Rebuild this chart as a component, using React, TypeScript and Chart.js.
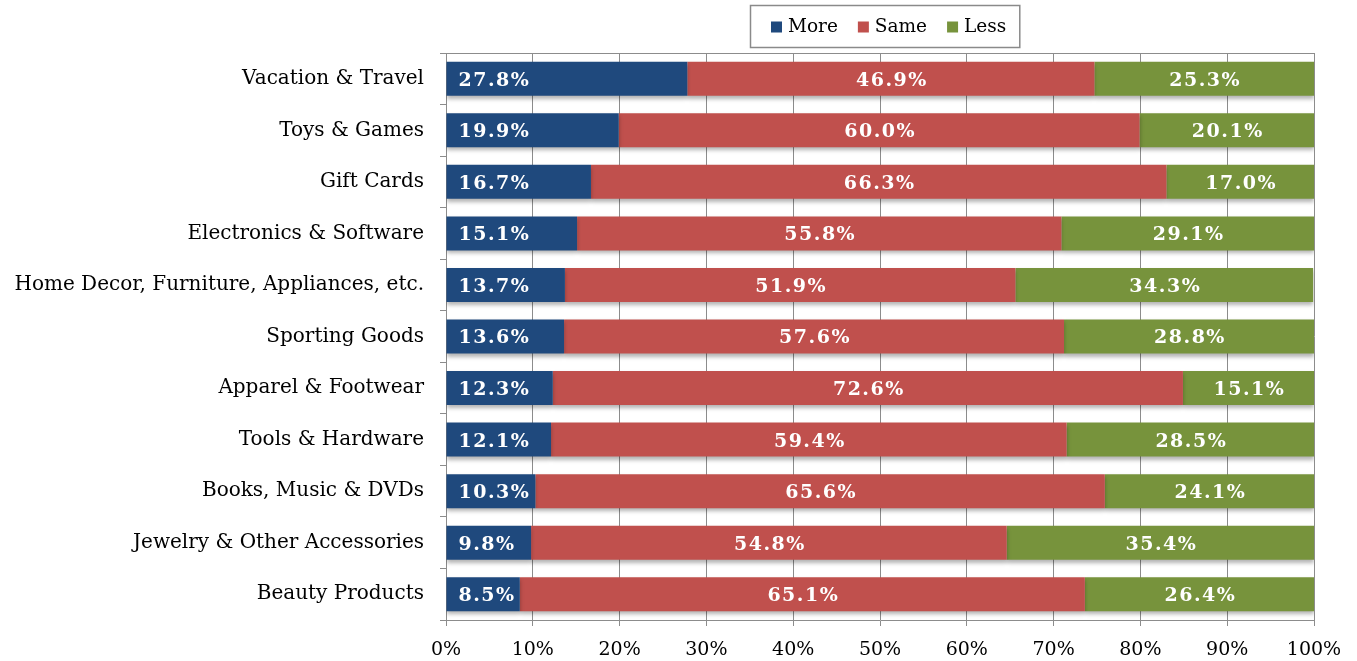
import React, { useEffect, useRef } from "react";
import { Chart, registerables } from "chart.js";

Chart.register(...registerables);

const categories = [
  "Vacation & Travel",
  "Toys & Games",
  "Gift Cards",
  "Electronics & Software",
  "Home Decor, Furniture, Appliances, etc.",
  "Sporting Goods",
  "Apparel & Footwear",
  "Tools & Hardware",
  "Books, Music & DVDs",
  "Jewelry & Other Accessories",
  "Beauty Products",
];
const moreValues = [27.8, 19.9, 16.7, 15.1, 13.7, 13.6, 12.3, 12.1, 10.3, 9.8, 8.5];
const sameValues = [46.9, 60.0, 66.3, 55.8, 51.9, 57.6, 72.6, 59.4, 65.6, 54.8, 65.1];
const lessValues = [25.3, 20.1, 17.0, 29.1, 34.3, 28.8, 15.1, 28.5, 24.1, 35.4, 26.4];
const seriesNames = ["More", "Same", "Less"];
const seriesColors = ["#1F497D", "#C0504D", "#77933C"];

const FONT = "'DejaVu Serif', 'Liberation Serif', serif";
const GRID = "#8c8c8c";

const shadowPlugin = {
  id: "barShadow",
  beforeDatasetsDraw(chart: any) {
    const ctx = chart.ctx;
    ctx.save();
    ctx.shadowColor = "rgba(0,0,0,0.3)";
    ctx.shadowBlur = 4;
    ctx.shadowOffsetX = 0;
    ctx.shadowOffsetY = 3;
  },
  afterDatasetsDraw(chart: any) {
    chart.ctx.restore();
  },
};

const labelPlugin = {
  id: "barLabels",
  afterDatasetsDraw(chart: any) {
    const ctx = chart.ctx;
    ctx.save();
    ctx.fillStyle = "#ffffff";
    ctx.font = `bold 19px ${FONT}`;
    try {
      (ctx as any).letterSpacing = "1.5px";
    } catch (e) {}
    ctx.textBaseline = "middle";
    chart.data.datasets.forEach((ds: any, di: number) => {
      const meta = chart.getDatasetMeta(di);
      meta.data.forEach((el: any, i: number) => {
        const v = ds.data[i] as number;
        const txt = v.toFixed(1) + "%";
        const props = el.getProps(["x", "y", "base"], true);
        if (di === 0) {
          ctx.textAlign = "left";
          ctx.fillText(txt, props.base + 12, props.y + 2);
        } else {
          ctx.textAlign = "center";
          ctx.fillText(txt, (props.x + props.base) / 2 + 1, props.y + 2);
        }
      });
    });
    ctx.restore();
  },
};

const framePlugin = {
  id: "frameAndLegend",
  afterDraw(chart: any) {
    const ctx = chart.ctx;
    const a = chart.chartArea;
    ctx.save();
    ctx.strokeStyle = GRID;
    ctx.lineWidth = 1;
    ctx.beginPath();
    ctx.moveTo(a.left, a.top + 0.5);
    ctx.lineTo(a.right, a.top + 0.5);
    ctx.stroke();

    ctx.font = `18.5px ${FONT}`;
    ctx.textBaseline = "middle";
    ctx.textAlign = "left";
    const sq = 11;
    const gapSqText = 6;
    const gapItems = 20;
    const widths = seriesNames.map((n) => ctx.measureText(n).width);
    let content = 0;
    widths.forEach((w, i) => {
      content += sq + gapSqText + w + (i < widths.length - 1 ? gapItems : 0);
    });
    const cx = (a.left + a.right) / 2 + 5;
    const padL = 21;
    const padR = 13;
    const boxW = content + padL + padR;
    const boxX = Math.round(cx - boxW / 2);
    const boxY = 5;
    const boxH = 42;
    ctx.strokeStyle = "#8a8a8a";
    ctx.lineWidth = 1.5;
    ctx.strokeRect(boxX + 0.5, boxY + 0.5, boxW, boxH);
    let x = boxX + padL;
    const cy = boxY + boxH / 2 + 1;
    seriesNames.forEach((n, i) => {
      ctx.fillStyle = seriesColors[i];
      ctx.fillRect(x, cy - sq / 2, sq, sq);
      x += sq + gapSqText;
      ctx.fillStyle = "#000000";
      ctx.fillText(n, x, cy);
      x += widths[i] + gapItems;
    });
    ctx.restore();
  },
};

export default function App() {
  const ref = useRef<HTMLCanvasElement | null>(null);
  useEffect(() => {
    if (!ref.current) return;
    const chart = new Chart(ref.current, {
      type: "bar",
      data: {
        labels: categories,
        datasets: [moreValues, sameValues, lessValues].map((d, i) => ({
          label: seriesNames[i],
          data: d,
          backgroundColor: seriesColors[i],
          borderWidth: 0,
          barPercentage: 0.66,
          categoryPercentage: 1,
        })),
      },
      options: {
        indexAxis: "y",
        animation: false,
        responsive: true,
        maintainAspectRatio: false,
        layout: { padding: { top: 53, right: 43, left: 0, bottom: 0 } },
        plugins: {
          legend: { display: false },
          tooltip: { enabled: false },
        },
        scales: {
          x: {
            stacked: true,
            min: 0,
            max: 100,
            ticks: {
              stepSize: 10,
              callback: (v: any) => v + "%",
              color: "#000000",
              font: { family: FONT, size: 19 },
              padding: 13,
              maxRotation: 0,
            },
            grid: {
              color: GRID,
              lineWidth: 1,
              tickLength: 6,
              drawOnChartArea: true,
            },
            border: { color: GRID, width: 1 },
            afterFit: (s: any) => {
              s.height = 41;
            },
          },
          y: {
            stacked: true,
            ticks: {
              color: "#000000",
              font: { family: FONT, size: 20 },
              padding: 16,
              autoSkip: false,
            },
            grid: {
              offset: true,
              drawOnChartArea: false,
              drawTicks: true,
              tickLength: 6,
              color: GRID,
            },
            border: { color: GRID, width: 1 },
            afterFit: (s: any) => {
              s.width = 446;
            },
          },
        },
      },
      plugins: [shadowPlugin, labelPlugin, framePlugin],
    });
    return () => chart.destroy();
  }, []);
  return (
    <div style={{ position: "absolute", left: 0, top: 0, width: 1357, height: 661, background: "#ffffff" }}>
      <canvas ref={ref} />
    </div>
  );
}
